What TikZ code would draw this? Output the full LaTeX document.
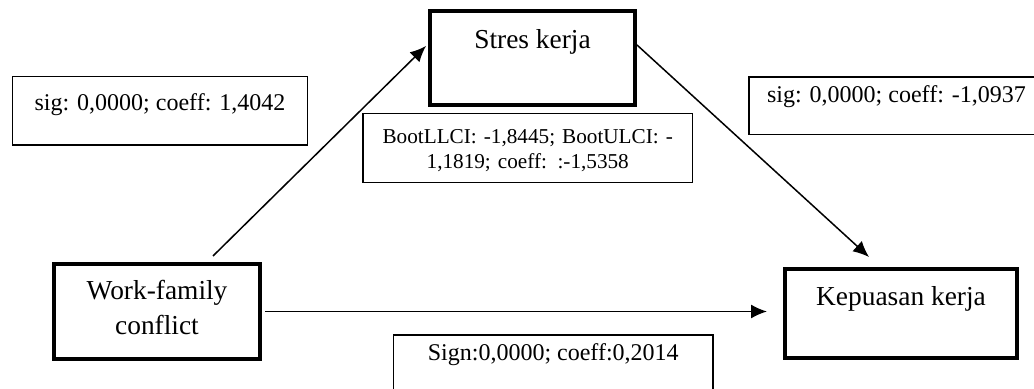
\documentclass[tikz,border=0pt]{standalone}
\usepackage{fontspec}
\setmainfont{Liberation Serif}
\usepackage{tikz}
\usetikzlibrary{arrows.meta}
\tikzset{
    varbox/.style={draw,line width=2pt,inner sep=0pt,font=\fontsize{13.7}{17.5}\selectfont},
    statbox/.style={draw,line width=0.75pt,inner sep=0pt,font=\fontsize{12}{13.8}\selectfont},
    pathline/.style={line width=0.75pt,-{Latex[length=8pt,width=7pt]}}
}

\begin{document}
\begin{tikzpicture}[x=0.5pt,y=-0.5pt]
    % Frame
    \clip (0,0) rectangle (1034,389);

    % Variables
    \node[varbox,minimum width=102.5pt,text height=19pt,text depth=28pt] (stres) at (532.5,58) {Stres kerja};
    \node[varbox,minimum width=116pt,text height=18.5pt,text depth=26pt] (kepuasan) at (901,313.5) {Kepuasan kerja};
    \node[varbox,text width=103pt,align=center,text height=18pt,text depth=29.5pt] (wfc) at (157,311.5) {Work-family\\conflict};

    % Path coefficients
    \node[statbox,minimum width=147.5pt,text height=17pt,text depth=17.25pt] (sigA) at (160,110.75) {sig: 0,0000; coeff: 1,4042};
    \node[statbox,minimum width=147.5pt,text height=12.75pt,text depth=16pt] (sigB) at (896.5,105.75) {sig: 0,0000; coeff: -1,0937};
    \node[statbox,font=\fontsize{10.6}{12.5}\selectfont,text width=164.75pt,align=center,text height=15.25pt,text depth=19.25pt] (boot) at (527.75,148) {BootLLCI: -1,8445; BootULCI: -\\1,1819; coeff: :-1,5358};
    \node[statbox,minimum width=159.75pt,text height=12.75pt,text depth=21.75pt] (sign) at (553.25,369.5) {Sign:0,0000; coeff:0,2014};

    % Arrows
    \draw[pathline] ([xshift=28pt,yshift=3pt]wfc.north) -- ([xshift=-1pt,yshift=6pt]stres.west);
    \draw[pathline] ([yshift=6.5pt]stres.east) -- ([xshift=-16pt,yshift=5pt]kepuasan.north);
    \draw[pathline] ([xshift=1.5pt]wfc.east) -- ([xshift=-8pt]wfc.east -| kepuasan.west);
\end{tikzpicture}
\end{document}
